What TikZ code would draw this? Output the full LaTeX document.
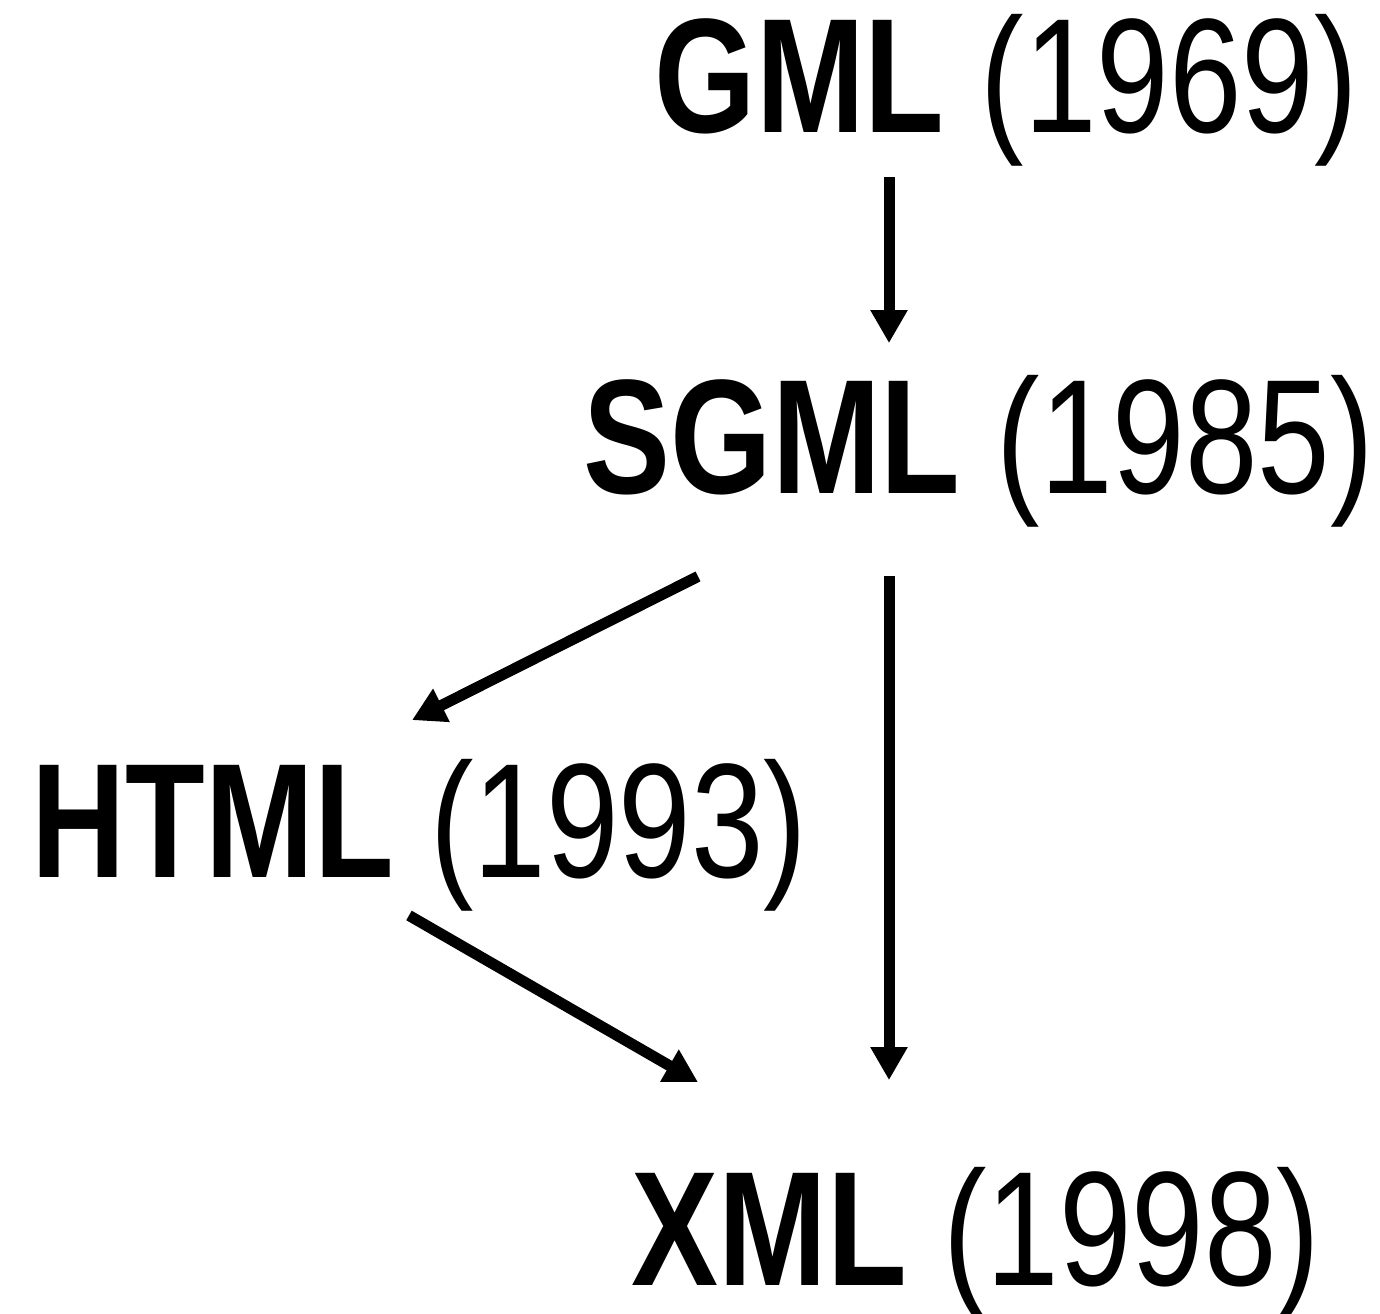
\documentclass[tikz,border=0pt]{standalone}
\usepackage{fontspec}
\setmainfont{Liberation Sans}[FakeStretch=0.8]
\usetikzlibrary{arrows.meta,calc}

\begin{document}
\begin{tikzpicture}[
  lang/.style={anchor=base west, inner sep=0pt, font=\fontsize{46.4}{52}\selectfont},
  arr/.style={-{Triangle[length=0.33cm, width=0.35cm]}, line width=0.11cm}
]
\useasboundingbox (0,0) rectangle (13.8,-13.14);

% markup languages
\node[lang] (gml)  at (6.54,-1.33)  {\textbf{GML} (1969)};
\node[lang] (sgml) at (5.83,-4.93)  {\textbf{SGML} (1985)};
\node[lang] (html) at (0.31,-8.77)  {\textbf{HTML} (1993)};
\node[lang] (xml)  at (6.31,-12.85) {\textbf{XML} (1998)};

% the vertical line of descent
\coordinate (spine) at (8.89,0);

\draw[arr] ($(gml.south -| spine)+(0,-0.1)$) -- ($(sgml.north -| spine)+(0,0.31)$);
\draw[arr] ($(sgml.south west)+(1.15,-0.49)$) -- ($(html.north west)+(3.81,0.38)$);
\draw[arr] ($(sgml.south -| spine)+(0,-0.49)$) -- ($(xml.north -| spine)+(0,0.86)$);
\draw[arr] ($(html.south west)+(3.78,-0.04)$) -- ($(xml.north west)+(0.67,0.84)$);
\end{tikzpicture}
\end{document}
